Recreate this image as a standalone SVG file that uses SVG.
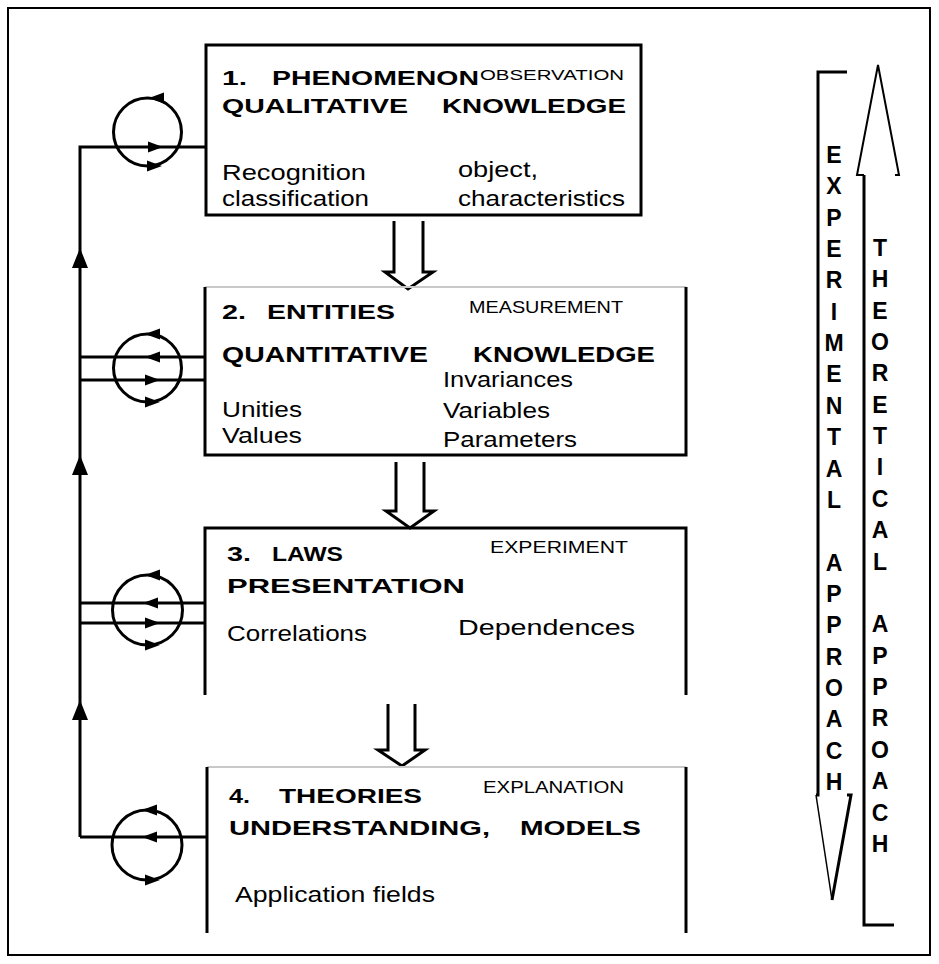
<svg xmlns="http://www.w3.org/2000/svg" width="939" height="964" viewBox="0 0 939 964">
<style>
text{font-family:"Liberation Sans",Arial,sans-serif;fill:#000}
.b{font-weight:bold;font-size:21px}
.r{font-size:22px}
.s{font-size:17px}
.v{font-weight:bold;font-size:23px;text-anchor:middle}
.ln{stroke:#000;stroke-width:3;fill:none}
.gl{stroke:#c8c8c8;stroke-width:2;fill:none}
.ah{fill:#000}
</style>
<defs>
<path id="ar" d="M0,0 L-15,-5.5 L-15,5.5 Z"/>
<path id="al" d="M0,0 L15,-5.5 L15,5.5 Z"/>
<path id="au" d="M0,0 L-8,20 L8,20 Z"/>
</defs>
<rect x="8" y="8" width="922" height="947" fill="#fff" stroke="#000" stroke-width="2"/>

<g id="connectors">
<path class="ln" d="M80,837 V147 H206"/>
<line class="ln" x1="80" y1="357" x2="205" y2="357"/>
<line class="ln" x1="80" y1="380" x2="205" y2="380"/>
<line class="ln" x1="80" y1="603" x2="205" y2="603"/>
<line class="ln" x1="80" y1="623" x2="205" y2="623"/>
<line class="ln" x1="80" y1="837" x2="207" y2="837"/>
<use href="#au" x="80" y="248" class="ah"/>
<use href="#au" x="80" y="455" class="ah"/>
<use href="#au" x="80" y="700" class="ah"/>
<g id="cycle1">
<circle class="ln" cx="147.5" cy="132" r="34"/>
<use href="#al" x="149" y="98"/>
<use href="#ar" x="163" y="147"/>
<use href="#ar" x="162" y="166"/>
</g>
<g id="cycle2">
<circle class="ln" cx="147.5" cy="368" r="34"/>
<use href="#al" x="145" y="334"/>
<use href="#al" x="145" y="357"/>
<use href="#ar" x="160" y="380"/>
<use href="#ar" x="160" y="402"/>
</g>
<g id="cycle3">
<circle class="ln" cx="147.5" cy="610" r="35"/>
<use href="#al" x="145" y="575"/>
<use href="#al" x="143" y="603"/>
<use href="#ar" x="160" y="623"/>
<use href="#ar" x="160" y="645"/>
</g>
<g id="cycle4">
<circle class="ln" cx="147" cy="845" r="35"/>
<use href="#al" x="142" y="810"/>
<use href="#al" x="142" y="837"/>
<use href="#ar" x="160" y="880"/>
</g>
<path id="flow12" class="ln" d="M394,221 V272 H385 L408,289 L433,272 H423 V221"/>
<path id="flow23" class="ln" d="M396,462 V511 H386 L410,528 L434,511 H424 V462"/>
<path id="flow34" class="ln" d="M388,704 V750 H378 L402,766 L425,750 H415 V704"/>
</g>

<g id="node1">
<rect class="ln" x="206" y="45" width="435" height="170"/>
<text class="b" x="222" y="85" textLength="25" lengthAdjust="spacingAndGlyphs">1.</text>
<text class="b" x="272" y="85" textLength="207" lengthAdjust="spacingAndGlyphs">PHENOMENON</text>
<text class="r" x="480" y="80" style="font-size:15px" textLength="144" lengthAdjust="spacingAndGlyphs">OBSERVATION</text>
<text class="b" x="222" y="113" textLength="186" lengthAdjust="spacingAndGlyphs">QUALITATIVE</text>
<text class="b" x="442" y="113" textLength="184" lengthAdjust="spacingAndGlyphs">KNOWLEDGE</text>
<text class="r" x="222" y="180" textLength="144" lengthAdjust="spacingAndGlyphs">Recognition</text>
<text class="r" x="222" y="206" textLength="147" lengthAdjust="spacingAndGlyphs">classification</text>
<text class="r" x="458" y="177" textLength="80" lengthAdjust="spacingAndGlyphs">object,</text>
<text class="r" x="458" y="206" textLength="167" lengthAdjust="spacingAndGlyphs">characteristics</text>
</g>

<g id="node2">
<line class="gl" x1="205" y1="287" x2="686" y2="287"/>
<path class="ln" d="M205,287 V455 H686 V287"/>
<text class="b" x="222" y="319" textLength="24" lengthAdjust="spacingAndGlyphs">2.</text>
<text class="b" x="267" y="319" textLength="128" lengthAdjust="spacingAndGlyphs">ENTITIES</text>
<text class="s" x="469" y="313" textLength="154" lengthAdjust="spacingAndGlyphs">MEASUREMENT</text>
<text class="b" x="222" y="362" style="font-size:22px" textLength="206" lengthAdjust="spacingAndGlyphs">QUANTITATIVE</text>
<text class="b" x="473" y="362" style="font-size:22px" textLength="182" lengthAdjust="spacingAndGlyphs">KNOWLEDGE</text>
<text class="r" x="443" y="387" textLength="130" lengthAdjust="spacingAndGlyphs">Invariances</text>
<text class="r" x="222" y="417" textLength="80" lengthAdjust="spacingAndGlyphs">Unities</text>
<text class="r" x="222" y="443" textLength="80" lengthAdjust="spacingAndGlyphs">Values</text>
<text class="r" x="443" y="418" textLength="107" lengthAdjust="spacingAndGlyphs">Variables</text>
<text class="r" x="443" y="447" textLength="134" lengthAdjust="spacingAndGlyphs">Parameters</text>
</g>

<g id="node3">
<path class="ln" d="M205,695 V528 H686 V695"/>
<text class="b" x="227" y="561" textLength="24" lengthAdjust="spacingAndGlyphs">3.</text>
<text class="b" x="272" y="561" textLength="71" lengthAdjust="spacingAndGlyphs">LAWS</text>
<text class="s" x="490" y="553" textLength="138" lengthAdjust="spacingAndGlyphs">EXPERIMENT</text>
<text class="b" x="227" y="593" textLength="238" lengthAdjust="spacingAndGlyphs">PRESENTATION</text>
<text class="r" x="227" y="641" textLength="140" lengthAdjust="spacingAndGlyphs">Correlations</text>
<text class="r" x="458" y="635" textLength="177" lengthAdjust="spacingAndGlyphs">Dependences</text>
</g>

<g id="node4">
<line class="gl" x1="207" y1="767" x2="686" y2="767"/>
<line class="ln" x1="207" y1="767" x2="207" y2="933"/>
<line class="ln" x1="686" y1="767" x2="686" y2="933"/>
<text class="b" x="229" y="803" textLength="21" lengthAdjust="spacingAndGlyphs">4.</text>
<text class="b" x="279" y="803" textLength="143" lengthAdjust="spacingAndGlyphs">THEORIES</text>
<text class="s" x="483" y="793" textLength="141" lengthAdjust="spacingAndGlyphs">EXPLANATION</text>
<text class="b" x="229" y="835" textLength="261" lengthAdjust="spacingAndGlyphs">UNDERSTANDING,</text>
<text class="b" x="520" y="835" textLength="121" lengthAdjust="spacingAndGlyphs">MODELS</text>
<text class="r" x="235" y="902" textLength="200" lengthAdjust="spacingAndGlyphs">Application fields</text>
</g>

<g id="experimental">
<path class="ln" d="M847,72 H818 V795 H816"/>
<path d="M816,795 L832,900" stroke="#000" stroke-width="1.5" fill="none"/>
<path class="ln" d="M832,900 L851,795 H847"/>
<text class="v" x="834" y="163">E</text>
<text class="v" x="834" y="194">X</text>
<text class="v" x="834" y="226">P</text>
<text class="v" x="834" y="257">E</text>
<text class="v" x="834" y="288">R</text>
<text class="v" x="834" y="320">I</text>
<text class="v" x="834" y="351">M</text>
<text class="v" x="834" y="382">E</text>
<text class="v" x="834" y="414">N</text>
<text class="v" x="834" y="445">T</text>
<text class="v" x="834" y="477">A</text>
<text class="v" x="834" y="508">L</text>
<text class="v" x="834" y="571">A</text>
<text class="v" x="834" y="602">P</text>
<text class="v" x="834" y="633">P</text>
<text class="v" x="834" y="665">R</text>
<text class="v" x="834" y="696">O</text>
<text class="v" x="834" y="727">A</text>
<text class="v" x="834" y="759">C</text>
<text class="v" x="834" y="790">H</text>
</g>

<g id="theoretical">
<path d="M895,175 H899 L878,65 L857,175 H864" stroke="#000" stroke-width="2" fill="none"/>
<path class="ln" d="M864,175 V925 H894"/>
<text class="v" x="880" y="256">T</text>
<text class="v" x="880" y="287">H</text>
<text class="v" x="880" y="319">E</text>
<text class="v" x="880" y="350">O</text>
<text class="v" x="880" y="381">R</text>
<text class="v" x="880" y="413">E</text>
<text class="v" x="880" y="444">T</text>
<text class="v" x="880" y="475">I</text>
<text class="v" x="880" y="507">C</text>
<text class="v" x="880" y="538">A</text>
<text class="v" x="880" y="570">L</text>
<text class="v" x="880" y="632">A</text>
<text class="v" x="880" y="664">P</text>
<text class="v" x="880" y="695">P</text>
<text class="v" x="880" y="726">R</text>
<text class="v" x="880" y="758">O</text>
<text class="v" x="880" y="789">A</text>
<text class="v" x="880" y="821">C</text>
<text class="v" x="880" y="852">H</text>
</g>
</svg>
